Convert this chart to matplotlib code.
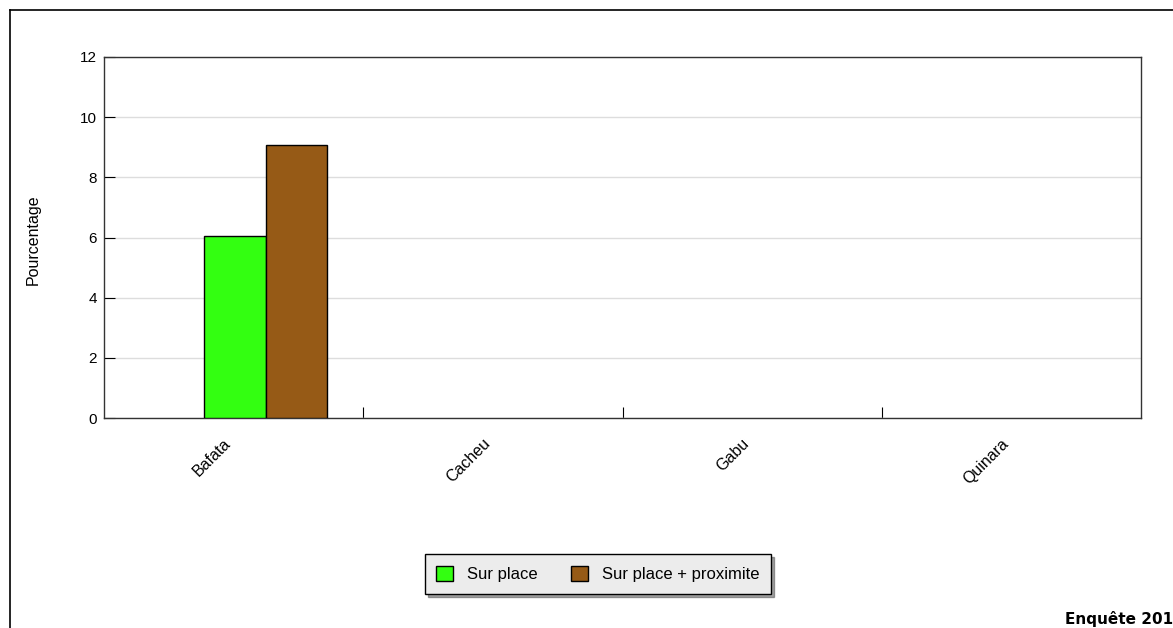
import numpy as np
import matplotlib
matplotlib.use('Agg')
import matplotlib.pyplot as plt
from matplotlib.lines import Line2D

plt.rcParams['font.family'] = ['Liberation Sans', 'DejaVu Sans']

regions = ['Bafata', 'Cacheu', 'Gabu', 'Quinara']
sur_place = [6.05, 0, 0, 0]
sur_place_prox = [9.07, 0, 0, 0]
series_names = ['Sur place', 'Sur place + proximite']
colors = ['#33ff11', '#965a16']

fig = plt.figure(figsize=(11.73, 6.28), dpi=100)
ax = fig.add_axes([104/1173, 210/628, 1037/1173, 361/628])

# cadre exterieur (coupe par le bord de l'image)
fig.add_artist(Line2D([10/1173, 1], [1 - 10/628, 1 - 10/628], color='black', lw=1.2, transform=fig.transFigure))
fig.add_artist(Line2D([10/1173, 10/1173], [0, 1 - 10/628], color='black', lw=1.2, transform=fig.transFigure))

x = np.arange(len(regions))
w = 0.237
lw1 = [1 if v > 0 else 0 for v in sur_place]
lw2 = [1 if v > 0 else 0 for v in sur_place_prox]
ax.bar(x + 0.386, sur_place, w, align='edge', color=colors[0], edgecolor='black', linewidth=lw1, label=series_names[0], zorder=3)
ax.bar(x + 0.386 + w, sur_place_prox, w, align='edge', color=colors[1], edgecolor='black', linewidth=lw2, label=series_names[1], zorder=3)

ax.set_xlim(0, len(regions))
ax.set_ylim(0, 12)
ax.set_yticks(np.arange(0, 13, 2))
ax.grid(axis='y', color='#dddddd', lw=1, zorder=0)

ax.set_xticks(x[1:], minor=False)
ax.set_xticklabels([])
ax.set_xticks(x + 0.5, minor=True)
ax.set_xticklabels(regions, minor=True, rotation=45, ha='right', va='top', fontsize=11.5)
ax.tick_params(axis='x', which='minor', length=0, pad=13)
ax.tick_params(axis='x', which='major', direction='in', length=8, color='black')
ax.tick_params(axis='y', direction='in', length=8, labelsize=11, pad=5)
for s in ax.spines.values():
    s.set_color('#333333')
    s.set_linewidth(1)

fig.text(33/1173, 1 - 240/628, 'Pourcentage', fontsize=11.5, rotation=90, ha='center', va='center')

leg = fig.legend(loc='center', bbox_to_anchor=(598/1173, 1 - 574/628), ncol=2, fancybox=False, shadow=True,
                 frameon=True, fontsize=12, handlelength=1.0, handleheight=1.0, columnspacing=2.0,
                 borderpad=0.7, handletextpad=0.85, borderaxespad=0)
leg.get_frame().set_facecolor('#ececec')
leg.get_frame().set_edgecolor('black')
leg.get_frame().set_alpha(1)

fig.text(1065/1173, 1 - 619/628, 'Enquête 2012', fontsize=11, fontweight='bold', ha='left', va='center',
         family='DejaVu Sans')

fig.savefig('out.png', dpi=100)
